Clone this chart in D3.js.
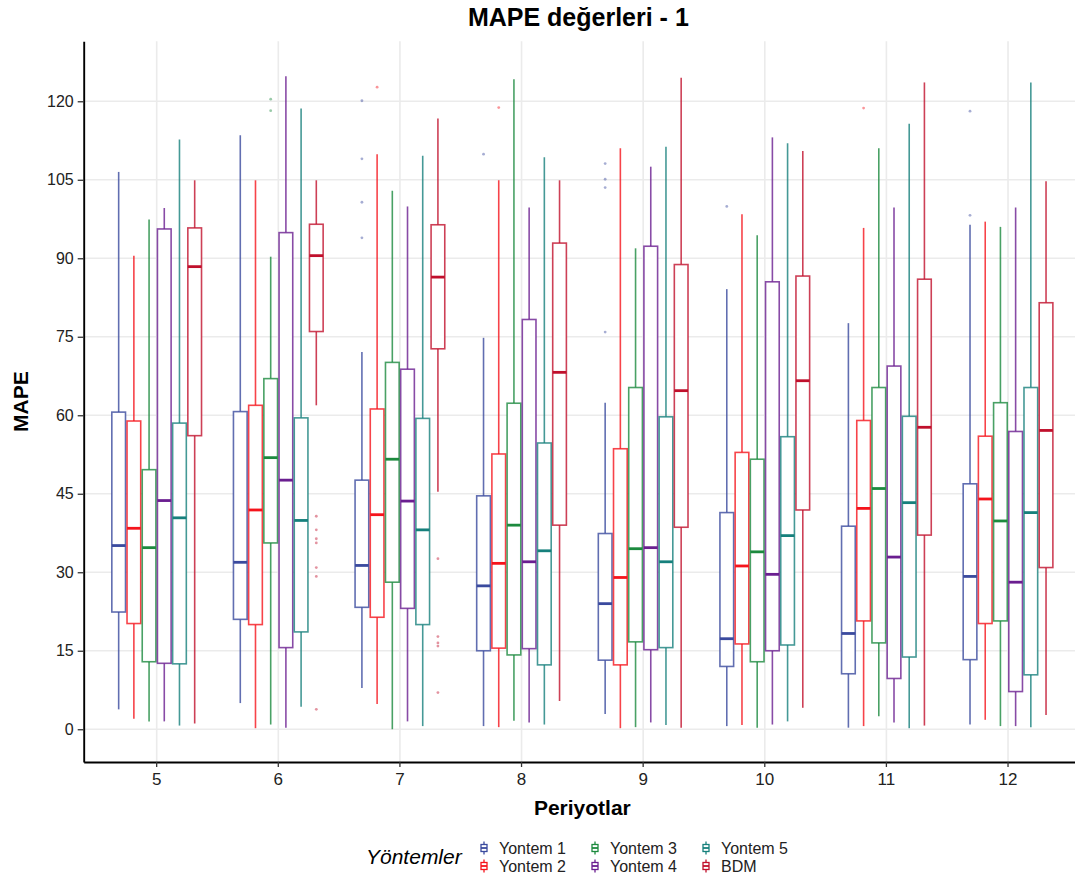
<!DOCTYPE html>
<html>
<head>
<meta charset="utf-8">
<script src="https://cdn.jsdelivr.net/npm/d3@7"></script>
<style>
  html, body { margin: 0; padding: 0; background: #fff; }
  svg { display: block; font-family: "Liberation Sans", Arial, Helvetica, sans-serif; }
</style>
</head>
<body>
<svg id="chart" width="1075" height="881"></svg>
<script>
// ---------------- DATA ----------------
const categories = ["5", "6", "7", "8", "9", "10", "11", "12"];
const methods = ["Yontem 1", "Yontem 2", "Yontem 3", "Yontem 4", "Yontem 5", "BDM"];
const colors = ["#3A4A9E", "#F5141C", "#1C8A3E", "#6A1E90", "#16807C", "#C0102C"];
const yTicks = [0, 15, 30, 45, 60, 75, 90, 105, 120];

// each entry: [lower whisker, Q1, median, Q3, upper whisker] for periods 5..12
const yontem1 = [[3.8,22.4,35.1,60.6,106.5],[5.0,21.0,31.9,60.7,113.5],[7.9,23.3,31.3,47.6,72.1],[0.6,15.0,27.4,44.6,74.8],
                 [2.9,13.2,24.0,37.4,62.4],[0.6,12.0,17.3,41.4,84.1],[0.3,10.6,18.3,38.8,77.6],[0.9,13.3,29.2,46.9,96.4]];
const yontem2 = [[2.0,20.2,38.4,58.9,90.5],[0.2,20.0,41.9,61.9,104.9],[4.8,21.4,41.0,61.2,109.9],[0.4,15.5,31.7,52.6,104.9],
                 [0.2,12.3,29.0,53.6,111.0],[0.8,16.3,31.2,52.9,98.4],[0.6,20.7,42.2,59.0,95.8],[1.8,20.2,44.0,56.0,97.0]];
const yontem3 = [[1.5,12.9,34.7,49.6,97.4],[0.9,35.6,51.9,67.0,90.3],[0.0,28.1,51.6,70.1,102.9],[1.6,14.2,39.0,62.3,124.2],
                 [0.4,16.7,34.5,65.3,91.9],[0.3,12.9,33.9,51.6,94.4],[2.5,16.5,46.0,65.3,111.0],[0.6,20.7,39.8,62.4,96.0]];
const yontem4 = [[1.5,12.6,43.7,95.6,99.6],[0.3,15.6,47.6,94.9,124.8],[1.5,23.1,43.6,68.8,99.9],[1.3,15.4,32.0,78.3,99.7],
                 [1.3,15.2,34.7,92.3,107.5],[0.9,15.0,29.6,85.5,113.1],[1.3,9.7,32.9,69.4,99.7],[0.6,7.2,28.1,56.9,99.7]];
const yontem5 = [[0.7,12.5,40.4,58.5,112.7],[4.3,18.6,39.9,59.5,118.6],[0.6,20.0,38.1,59.4,109.6],[0.9,12.3,34.1,54.7,109.3],
                 [0.8,15.6,32.0,59.7,111.3],[1.5,16.1,37.0,55.9,112.0],[0.2,13.8,43.3,59.8,115.7],[0.4,10.4,41.4,65.3,123.6]];
const bdm      = [[1.1,56.1,88.4,95.8,104.9],[61.9,76.0,90.5,96.5,104.9],[45.4,72.7,86.4,96.4,116.7],[5.4,39.0,68.2,92.9,104.9],
                 [0.3,38.6,64.7,88.8,124.5],[4.1,41.9,66.6,86.6,110.5],[0.7,37.1,57.7,86.0,123.6],[2.7,30.9,57.1,81.5,104.7]];

// outliers: [method index, period, values]
const outliers = [
  [0, "7", [120.1, 109.0, 100.7, 93.9]],
  [0, "8", [109.9]],
  [0, "9", [108.1, 105.1, 103.5, 75.9]],
  [0, "10", [99.9]],
  [0, "12", [118.1, 98.2]],
  [1, "7", [122.7]],
  [1, "8", [118.8]],
  [1, "11", [118.7]],
  [2, "6", [120.4, 118.2]],
  [5, "6", [40.7, 38.1, 36.4, 35.6, 30.9, 29.2, 3.8]],
  [5, "7", [32.6, 17.7, 16.5, 15.9, 7.0]]
];

const seriesStats = [yontem1, yontem2, yontem3, yontem4, yontem5, bdm];

// ---------------- LAYOUT ----------------
const svg = d3.select("#chart");
const panel = { left: 83.7, right: 1081, top: 41.3, bottom: 762 };

const x = d3.scaleBand().domain(categories).range([panel.left, panel.right])
  .paddingInner(0).paddingOuter(0.1);
const step = x.bandwidth();
const xm = d3.scaleBand().domain(methods).range([-0.375 * step, 0.375 * step]).padding(0);
const boxW = xm.bandwidth() * 0.9;

const y = d3.scaleLinear().domain([-6.26, 131.46]).range([panel.bottom, panel.top]);

// gridlines
const grid = svg.append("g");
grid.selectAll("line.h").data(yTicks).join("line")
  .attr("x1", panel.left).attr("x2", panel.right)
  .attr("y1", d => y(d)).attr("y2", d => y(d))
  .attr("stroke", "#EBEBEB").attr("stroke-width", 1.6);
grid.selectAll("line.v").data(categories).join("line")
  .attr("x1", d => x(d) + step / 2).attr("x2", d => x(d) + step / 2)
  .attr("y1", panel.top).attr("y2", panel.bottom)
  .attr("stroke", "#EBEBEB").attr("stroke-width", 1.6);

// boxes
const flat = [];
seriesStats.forEach((arr, mi) => {
  arr.forEach((s, ci) => {
    flat.push({ m: methods[mi], mi, c: categories[ci], lo: s[0], q1: s[1], med: s[2], q3: s[3], hi: s[4] });
  });
});

const boxes = svg.append("g").selectAll("g").data(flat).join("g")
  .attr("transform", d => `translate(${x(d.c) + step / 2 + xm(d.m) + xm.bandwidth() / 2},0)`);

boxes.append("line").attr("x1", 0).attr("x2", 0)
  .attr("y1", d => y(d.hi)).attr("y2", d => y(d.q3))
  .attr("stroke", d => colors[d.mi]).attr("stroke-width", 1.6).attr("stroke-opacity", 0.8);
boxes.append("line").attr("x1", 0).attr("x2", 0)
  .attr("y1", d => y(d.q1)).attr("y2", d => y(d.lo))
  .attr("stroke", d => colors[d.mi]).attr("stroke-width", 1.6).attr("stroke-opacity", 0.8);
boxes.append("rect")
  .attr("x", -boxW / 2).attr("width", boxW)
  .attr("y", d => y(d.q3)).attr("height", d => y(d.q1) - y(d.q3))
  .attr("fill", "#fff").attr("stroke", d => colors[d.mi])
  .attr("stroke-width", 1.6).attr("stroke-opacity", 0.8);
boxes.append("line").attr("x1", -boxW / 2).attr("x2", boxW / 2)
  .attr("y1", d => y(d.med)).attr("y2", d => y(d.med))
  .attr("stroke", d => colors[d.mi]).attr("stroke-width", 2.8);

// outliers
const outPts = [];
outliers.forEach(([mi, c, vals]) => vals.forEach(v => outPts.push({ mi, c, v })));
svg.append("g").selectAll("circle").data(outPts).join("circle")
  .attr("cx", d => x(d.c) + step / 2 + xm(methods[d.mi]) + xm.bandwidth() / 2)
  .attr("cy", d => y(d.v))
  .attr("r", 1.4)
  .attr("fill", d => colors[d.mi]).attr("fill-opacity", 0.45);

// axes
const yAxis = svg.append("g").attr("transform", `translate(${panel.left},0)`)
  .call(d3.axisLeft(y).tickValues(yTicks).tickSize(6).tickSizeOuter(0).tickPadding(4));
const xAxis = svg.append("g").attr("transform", `translate(0,${panel.bottom})`)
  .call(d3.axisBottom(x).tickSize(5).tickSizeOuter(0).tickPadding(6));
[yAxis, xAxis].forEach(a => {
  a.select(".domain").attr("stroke", "#000").attr("stroke-width", 1.9);
  a.selectAll(".tick line").attr("stroke", "#333").attr("stroke-width", 1.3);
  a.selectAll(".tick text").attr("fill", "#222").style("font-size", "16px");
});
xAxis.selectAll(".tick text").style("font-size", "17px");

// titles
const cx = (panel.left + panel.right) / 2;
svg.append("text").attr("x", cx - 4).attr("y", 26).attr("text-anchor", "middle")
  .style("font-size", "25px").style("font-weight", "bold").text("MAPE değerleri - 1");
svg.append("text").attr("x", cx).attr("y", 815).attr("text-anchor", "middle")
  .style("font-size", "21px").style("font-weight", "bold").text("Periyotlar");
svg.append("text").attr("transform", `translate(28,${(panel.top + panel.bottom) / 2}) rotate(-90)`)
  .attr("text-anchor", "middle")
  .style("font-size", "21px").style("font-weight", "bold").text("MAPE");

// legend
const legend = svg.append("g");
legend.append("text").attr("x", 366).attr("y", 864)
  .style("font-size", "21px").style("font-style", "italic").text("Yöntemler");
const colX = [484, 595, 706];
const rowY = [848, 866];
const items = legend.selectAll("g.item").data(methods).join("g")
  .attr("transform", (d, i) => `translate(${colX[Math.floor(i / 2)]},${rowY[i % 2]})`);
items.append("line").attr("x1", 0).attr("x2", 0).attr("y1", -6.5).attr("y2", 6.5)
  .attr("stroke", (d, i) => colors[i]).attr("stroke-width", 1.3);
items.append("rect").attr("x", -3).attr("y", -3.5).attr("width", 6).attr("height", 7)
  .attr("fill", "#fff").attr("stroke", (d, i) => colors[i]).attr("stroke-width", 1.3);
items.append("line").attr("x1", -3).attr("x2", 3).attr("y1", 0).attr("y2", 0)
  .attr("stroke", (d, i) => colors[i]).attr("stroke-width", 1.8);
items.append("text").attr("x", 15).attr("y", 6)
  .style("font-size", "16px").attr("fill", "#222").text(d => d);
</script>
</body>
</html>
